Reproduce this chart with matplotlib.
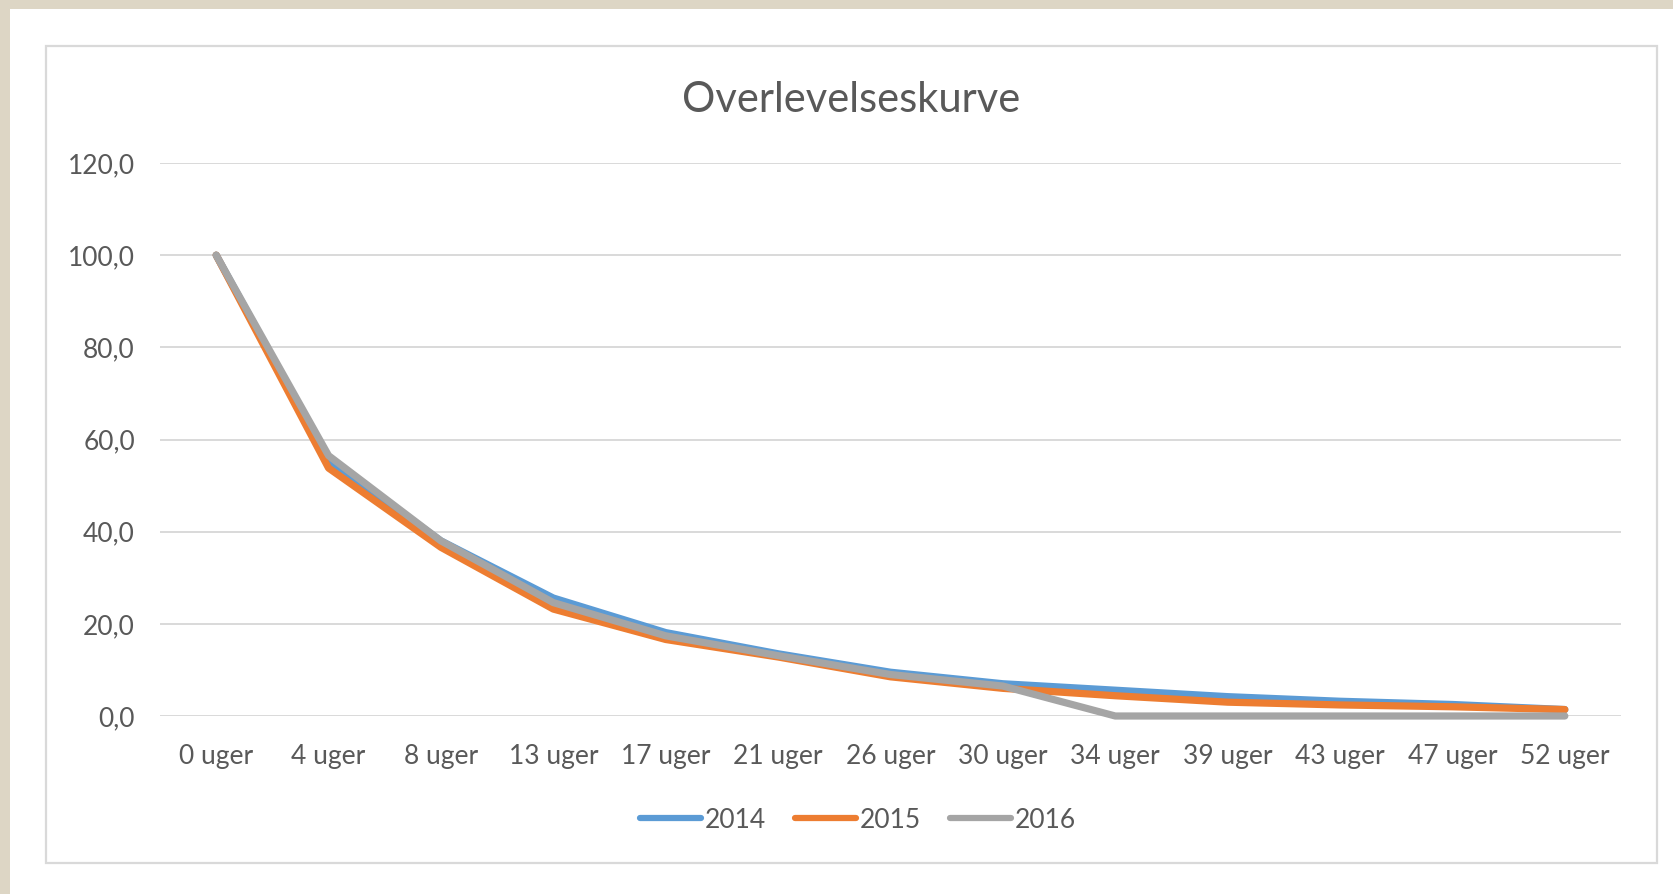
import matplotlib
matplotlib.use("Agg")
import matplotlib.pyplot as plt
from matplotlib.patches import Rectangle
from matplotlib.ticker import FuncFormatter

plt.rcParams['font.family'] = ['Lato', 'DejaVu Sans']

categories = ["0 uger", "4 uger", "8 uger", "13 uger", "17 uger", "21 uger", "26 uger",
              "30 uger", "34 uger", "39 uger", "43 uger", "47 uger", "52 uger"]
s2014 = [100.0, 55.5, 38.0, 25.6, 18.1, 13.5, 9.5, 7.0, 5.6, 4.2, 3.2, 2.5, 1.4]
s2015 = [100.0, 53.8, 36.6, 23.2, 16.6, 12.8, 8.5, 6.0, 4.4, 3.0, 2.4, 2.0, 1.4]
s2016 = [100.0, 56.5, 38.0, 24.6, 17.4, 13.1, 9.0, 6.5, 0.0, 0.0, 0.0, 0.0, 0.0]
series_names = ["2014", "2015", "2016"]
colors = ["#5B9BD5", "#ED7D31", "#A5A5A5"]
title = "Overlevelseskurve"

W, H = 1673, 894
fig = plt.figure(figsize=(W / 100, H / 100), dpi=100)
fig.patch.set_facecolor("#DDD6C5")

# white page area (beige bands at top and left)
fig.patches.append(Rectangle((10 / W, 0), 1 - 10 / W, 1 - 9 / H, transform=fig.transFigure,
                             facecolor="white", edgecolor="none", zorder=-2))
# chart border
fig.patches.append(Rectangle((46 / W, 1 - 863 / H), (1657 - 46) / W, (863 - 46) / H,
                             transform=fig.transFigure, facecolor="white",
                             edgecolor="#D9D9D9", linewidth=1.6, zorder=-1))

ax = fig.add_axes([160 / W, 1 - 716 / H, (1621 - 160) / W, (716 - 163) / H])
ax.set_facecolor("none")

x = list(range(len(categories)))
for name, vals, c in zip(series_names, [s2014, s2015, s2016], colors):
    ax.plot(x, vals, color=c, lw=5.2, solid_capstyle="round", solid_joinstyle="round",
            label=name, zorder=3, clip_on=False)

ax.set_xlim(-0.5, len(categories) - 0.5)
ax.set_ylim(0, 120)
ax.set_yticks([0, 20, 40, 60, 80, 100, 120])
ax.yaxis.set_major_formatter(FuncFormatter(lambda v, p: f"{v:.1f}".replace(".", ",")))
ax.set_xticks(x)
ax.set_xticklabels(categories)
ax.grid(axis="y", color="#D9D9D9", lw=1.4, zorder=0)
ax.set_axisbelow(True)
for s in ax.spines.values():
    s.set_visible(False)
ax.tick_params(axis="both", length=0, labelsize=19, labelcolor="#595959")
ax.tick_params(axis="y", pad=18)
ax.tick_params(axis="x", pad=20)

fig.text(851 / W, 1 - 100 / H, title, ha="center", va="center", fontsize=30, color="#595959")

leg = fig.legend(loc="center", bbox_to_anchor=(858 / W, 1 - 820 / H), ncol=3, frameon=False,
                 fontsize=19, handlelength=2.3, handletextpad=0.15, columnspacing=1.1)
for t in leg.get_texts():
    t.set_color("#595959")
for l in leg.get_lines():
    l.set_linewidth(4.5)
    l.set_solid_capstyle("round")

fig.savefig("out.png", dpi=100, facecolor=fig.get_facecolor())
